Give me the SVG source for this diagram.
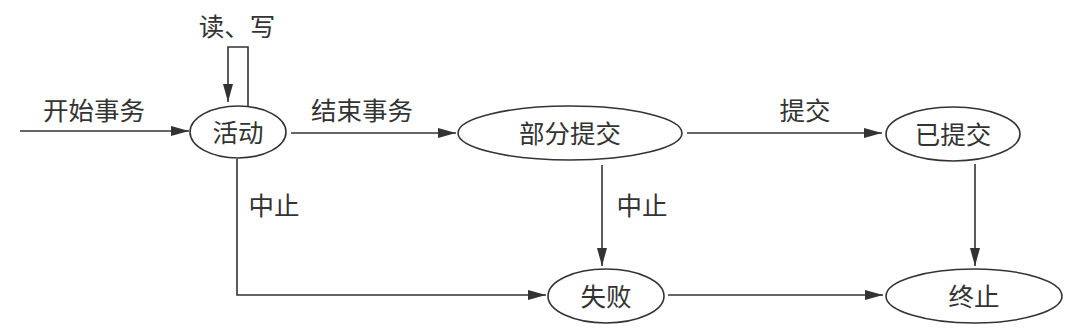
<svg xmlns="http://www.w3.org/2000/svg" width="1077" height="330" viewBox="0 0 1077 330">
<defs>
<style>
.n{fill:#fff;stroke:#333;stroke-width:1.6}
.t{font-family:"Noto Sans CJK SC","Noto Sans CJK JP",sans-serif;font-size:25.5px;fill:#333;text-anchor:middle}
.c{fill:none;stroke:#333;stroke-width:1.6}
</style>
<marker id="a" viewBox="0 0 18 10" refX="18" refY="5" markerWidth="18" markerHeight="10" markerUnits="userSpaceOnUse" orient="auto">
<path d="M0,0 L18,5 L0,10 Z" fill="#333"/>
</marker>
</defs>
<rect width="1077" height="330" fill="#fff"/>
<g id="connectors">
<path class="c" d="M20,131 H189" marker-end="url(#a)"/>
<text class="t" x="94" y="120">开始事务</text>
<path class="c" d="M248,106 V47 H228 V102" marker-end="url(#a)"/>
<text class="t" x="237" y="36">读、写</text>
<path class="c" d="M291,133 H456" marker-end="url(#a)"/>
<text class="t" x="362" y="120">结束事务</text>
<path class="c" d="M687,133 H882" marker-end="url(#a)"/>
<text class="t" x="805" y="120">提交</text>
<path class="c" d="M237,159 V295 H546" marker-end="url(#a)"/>
<text class="t" x="274" y="215">中止</text>
<path class="c" d="M602,165 V266" marker-end="url(#a)"/>
<text class="t" x="642" y="215">中止</text>
<path class="c" d="M668,295 H883" marker-end="url(#a)"/>
<path class="c" d="M975,164 V266" marker-end="url(#a)"/>
</g>
<g id="active">
<ellipse class="n" cx="238" cy="132" rx="48" ry="26"/>
<text class="t" x="238" y="142">活动</text>
</g>
<g id="partial">
<ellipse class="n" cx="570" cy="133" rx="112" ry="27"/>
<text class="t" x="570" y="143">部分提交</text>
</g>
<g id="committed">
<ellipse class="n" cx="953" cy="134" rx="67" ry="27"/>
<text class="t" x="953" y="144">已提交</text>
</g>
<g id="failed">
<ellipse class="n" cx="606" cy="296" rx="58" ry="27"/>
<text class="t" x="606" y="306">失败</text>
</g>
<g id="aborted">
<ellipse class="n" cx="974" cy="296" rx="88" ry="27"/>
<text class="t" x="974" y="306">终止</text>
</g>
</svg>
